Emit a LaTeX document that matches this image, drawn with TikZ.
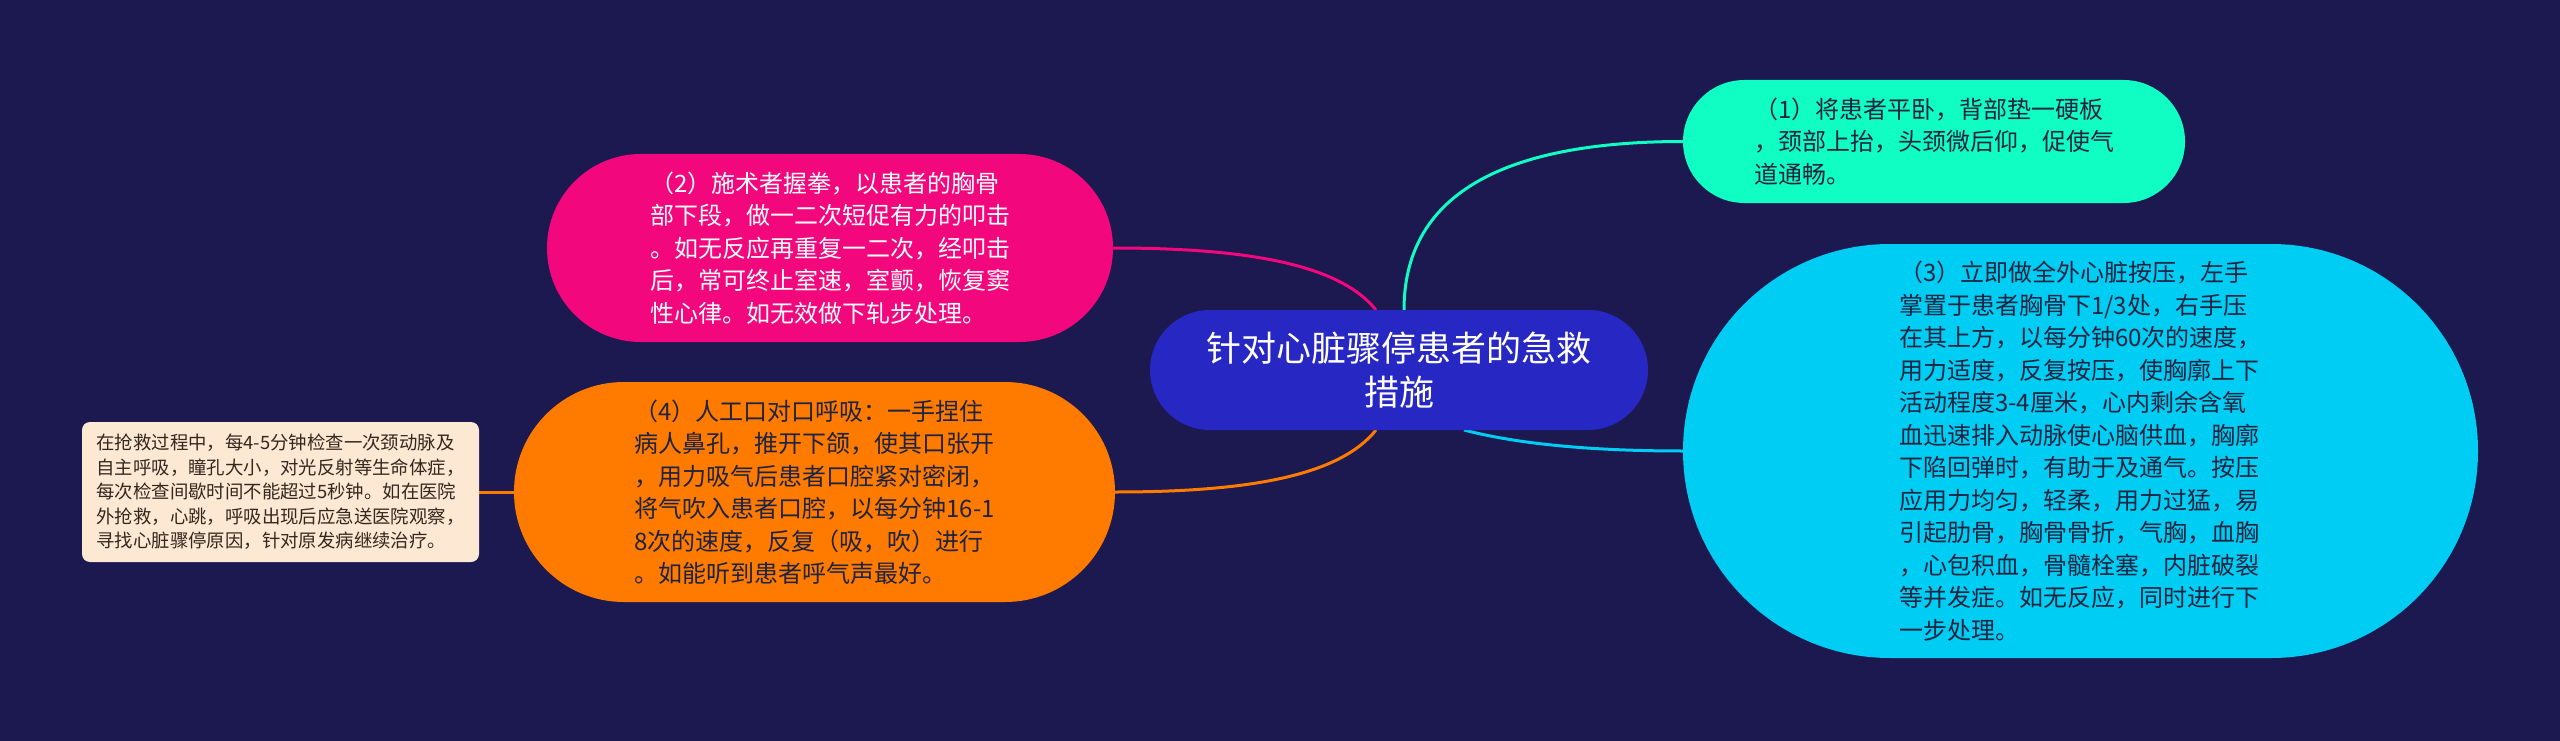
\documentclass[tikz,border=0pt]{standalone}
\usepackage{fontspec}
\setmainfont{Noto Sans CJK SC}
\definecolor{bgc}{HTML}{1B1950}
\definecolor{cenc}{HTML}{2727C3}
\definecolor{pinkc}{HTML}{F2077D}
\definecolor{greenc}{HTML}{10FDC3}
\definecolor{cyanc}{HTML}{00CDF3}
\definecolor{orangec}{HTML}{FF7B00}
\definecolor{leafc}{HTML}{FDE8D4}
\definecolor{darktext}{HTML}{1E2340}
\definecolor{leaftext}{HTML}{33281E}
\pgfdeclarelayer{bglayer}
\pgfdeclarelayer{linelayer}
\pgfsetlayers{bglayer,linelayer,main}
\begin{document}
\begin{tikzpicture}[x=1pt,y=-1pt,
  box/.style={inner sep=0pt, outer sep=0pt, align=left},
  sub/.style={box, text=darktext, font=\fontsize{24}{32.5}\selectfont},
  conn/.style={line width=3pt}]
\begin{pgfonlayer}{bglayer}
\fill[bgc] (0,0) rectangle (2560,741);
\end{pgfonlayer}
\useasboundingbox (0,0) rectangle (2560,741);

\node[box, align=center, fill=cenc, text=white, minimum width=498pt, minimum height=120pt,
  rounded corners=59.9pt, font=\fontsize{35}{44}\selectfont] (cn) at (1399,370)
  {针对心脏骤停患者的急救\\措施};

\node[sub, fill=greenc, minimum width=502pt, minimum height=123pt, rounded corners=61.4pt] (n1) at (1934,141.5)
  {（1）将患者平卧，背部垫一硬板\\，颈部上抬，头颈微后仰，促使气\\道通畅。};

\node[sub, fill=pinkc, text=white, minimum width=566pt, minimum height=188pt, rounded corners=93.9pt] (n2) at (830,248)
  {（2）施术者握拳，以患者的胸骨\\部下段，做一二次短促有力的叩击\\。如无反应再重复一二次，经叩击\\后，常可终止室速，室颤，恢复窦\\性心律。如无效做下轧步处理。};

\node[sub, fill=cyanc, minimum width=795pt, minimum height=414pt, rounded corners=206.9pt] (n3) at (2080.5,451)
  {（3）立即做全外心脏按压，左手\\掌置于患者胸骨下1/3处，右手压\\在其上方，以每分钟60次的速度，\\用力适度，反复按压，使胸廓上下\\活动程度3-4厘米，心内剩余含氧\\血迅速排入动脉使心脑供血，胸廓\\下陷回弹时，有助于及通气。按压\\应用力均匀，轻柔，用力过猛，易\\引起肋骨，胸骨骨折，气胸，血胸\\，心包积血，骨髓栓塞，内脏破裂\\等并发症。如无反应，同时进行下\\一步处理。};

\node[sub, fill=orangec, minimum width=601pt, minimum height=220pt, rounded corners=109.9pt] (n4) at (814.5,492)
  {（4）人工口对口呼吸：一手捏住\\病人鼻孔，推开下颌，使其口张开\\，用力吸气后患者口腔紧对密闭，\\将气吹入患者口腔，以每分钟16-1\\8次的速度，反复（吸，吹）进行\\。如能听到患者呼气声最好。};

\node[box, fill=leafc, text=leaftext, minimum width=397pt, minimum height=140pt, rounded corners=8pt,
  font=\fontsize{18.4}{24.5}\selectfont] (leaf) at (280.5,492)
  {在抢救过程中，每4-5分钟检查一次颈动脉及\\自主呼吸，瞳孔大小，对光反射等生命体症，\\每次检查间歇时间不能超过5秒钟。如在医院\\外抢救，心跳，呼吸出现后应急送医院观察，\\寻找心脏骤停原因，针对原发病继续治疗。};

\begin{pgfonlayer}{linelayer}
\draw[conn, greenc] ([xshift=5pt]cn.north) .. controls +(0,-112) and +(-186,0) .. (n1.west);
\draw[conn, pinkc] ([xshift=-23pt]cn.north) .. controls +(-36,-45) and +(137,0) .. (n2.east);
\draw[conn, cyanc] ([xshift=65pt]cn.south) .. controls +(46,12) and +(-104,0) .. (n3.west);
\draw[conn, orangec] ([xshift=-23pt]cn.south) .. controls +(-36,45) and +(137,0) .. (n4.east);
\draw[conn, orangec] (n4.west) -- (leaf.east);
\end{pgfonlayer}
\end{tikzpicture}
\end{document}
